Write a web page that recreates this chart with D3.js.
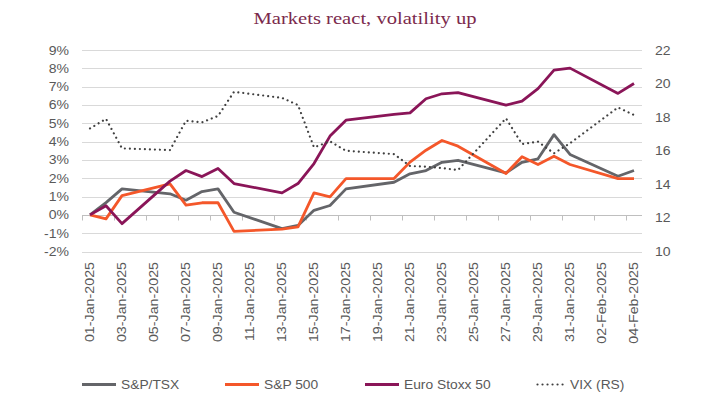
<!DOCTYPE html>
<html><head><meta charset="utf-8">
<script src="https://cdn.jsdelivr.net/npm/d3@7/dist/d3.min.js"></script>
<style>
body{margin:0;background:#fff;}
svg{display:block;}
text{font-family:"Liberation Sans",Arial,sans-serif;}
</style>
</head><body>
<svg id="c" width="706" height="417"></svg>
<script>
// ---- data ----
const dates = ["2025-01-01","2025-01-02","2025-01-03","2025-01-06","2025-01-07","2025-01-08","2025-01-09","2025-01-10",
  "2025-01-13","2025-01-14","2025-01-15","2025-01-16","2025-01-17","2025-01-20","2025-01-21","2025-01-22","2025-01-23",
  "2025-01-24","2025-01-27","2025-01-28","2025-01-29","2025-01-30","2025-01-31","2025-02-03","2025-02-04"];
const tsx   = [0, 0.67, 1.42, 1.15, 0.80, 1.27, 1.42, 0.14, -0.75, -0.58, 0.25, 0.51, 1.42, 1.78, 2.24, 2.42, 2.87, 2.98, 2.29, 2.87, 3.06, 4.38, 3.30, 2.11, 2.42];
const sp500 = [0, -0.22, 1.05, 1.69, 0.53, 0.66, 0.66, -0.90, -0.78, -0.66, 1.20, 0.98, 1.98, 1.98, 2.88, 3.53, 4.06, 3.75, 2.26, 3.17, 2.75, 3.20, 2.75, 1.98, 1.98];
const euro  = [0, 0.50, -0.48, 1.84, 2.42, 2.09, 2.53, 1.71, 1.20, 1.71, 2.80, 4.30, 5.17, 5.48, 5.57, 6.34, 6.61, 6.67, 5.99, 6.21, 6.89, 7.90, 8.01, 6.63, 7.17];
const vix   = [17.33, 17.90, 16.14, 16.04, 17.79, 17.69, 18.07, 19.51, 19.15, 18.72, 16.20, 16.56, 16.00, 15.80, 15.09, 15.05, 14.97, 14.85, 17.93, 16.40, 16.54, 15.85, 16.45, 18.58, 18.13];
const seriesNames = ["S&P/TSX","S&P 500","Euro Stoxx 50","VIX (RS)"];
const leftTicks  = [-2,-1,0,1,2,3,4,5,6,7,8,9];
const rightTicks = [10,12,14,16,18,20,22];
const xLabelDates = ["2025-01-01","2025-01-03","2025-01-05","2025-01-07","2025-01-09","2025-01-11","2025-01-13","2025-01-15",
  "2025-01-17","2025-01-19","2025-01-21","2025-01-23","2025-01-25","2025-01-27","2025-01-29","2025-01-31","2025-02-02","2025-02-04"];
const title = "Markets react, volatility up";

// ---- chart ----
const W = 706, H = 417;
const svg = d3.select("#c");
svg.append("rect").attr("width", W).attr("height", H).attr("fill", "#fff");

const parse = d3.utcParse("%Y-%m-%d");
const fmt = d3.utcFormat("%d-%b-%Y");
const dts = dates.map(parse);

const x = d3.scaleUtc()
  .domain([d3.utcHour.offset(parse("2025-01-01"), -12), d3.utcHour.offset(parse("2025-02-04"), 12)])
  .range([82, 642]);
const yL = d3.scaleLinear().domain([-2, 9]).range([251.5, 50]);
const yR = d3.scaleLinear().domain([10, 22]).range([251.5, 50]);

const TXT = "#595959";
const SX = 1.17;

// gridlines
svg.append("g").selectAll("line").data(leftTicks).join("line")
  .attr("x1", x.range()[0]).attr("x2", x.range()[1])
  .attr("y1", d => Math.round(yL(d)) + 0.5).attr("y2", d => Math.round(yL(d)) + 0.5)
  .attr("stroke", "#d9d9d9").attr("stroke-width", 1);

// left labels
svg.append("g").selectAll("text").data(leftTicks).join("text")
  .attr("transform", d => `translate(69,${yL(d) + 4.5}) scale(${SX},1)`)
  .attr("text-anchor", "end").attr("font-size", 12).attr("fill", TXT)
  .text(d => d + "%");

// right labels
svg.append("g").selectAll("text").data(rightTicks).join("text")
  .attr("transform", d => `translate(655,${yR(d) + 4.5}) scale(${SX},1)`)
  .attr("text-anchor", "start").attr("font-size", 12).attr("fill", TXT)
  .text(d => d);

// x axis line at 0%
const y0 = Math.round(yL(0)) + 0.5;
svg.append("line").attr("x1", x.range()[0]).attr("x2", x.range()[1])
  .attr("y1", y0).attr("y2", y0).attr("stroke", "#bfbfbf").attr("stroke-width", 1);
// tick marks at interval boundaries (every 2 days)
const tickDates = xLabelDates.map(s => d3.utcHour.offset(parse(s), -12));
svg.append("g").selectAll("line").data(tickDates).join("line")
  .attr("x1", d => Math.round(x(d)) + 0.5).attr("x2", d => Math.round(x(d)) + 0.5)
  .attr("y1", y0).attr("y2", y0 + 5)
  .attr("stroke", "#bfbfbf").attr("stroke-width", 1);

// x labels (rotated)
svg.append("g").selectAll("text").data(xLabelDates.map(parse)).join("text")
  .attr("transform", d => `translate(${x(d) + 4},262) rotate(-90) scale(1.19,1)`)
  .attr("text-anchor", "end").attr("font-size", 12).attr("fill", TXT)
  .text(d => fmt(d));

// lines
const COLORS = ["#646569", "#F4572A", "#8A1558", "#404040"];
const mk = (vals, ys) => d3.line().x((d, i) => x(dts[i])).y(d => ys(d))(vals);
svg.append("path").attr("d", mk(tsx, yL)).attr("fill", "none").attr("stroke", COLORS[0]).attr("stroke-width", 2.8).attr("stroke-linejoin", "round");
svg.append("path").attr("d", mk(sp500, yL)).attr("fill", "none").attr("stroke", COLORS[1]).attr("stroke-width", 2.8).attr("stroke-linejoin", "round");
svg.append("path").attr("d", mk(euro, yL)).attr("fill", "none").attr("stroke", COLORS[2]).attr("stroke-width", 2.8).attr("stroke-linejoin", "round");
svg.append("path").attr("d", mk(vix, yR)).attr("fill", "none").attr("stroke", COLORS[3]).attr("stroke-width", 2.2)
  .attr("stroke-dasharray", "0.01,5").attr("stroke-linecap", "round");

// title
svg.append("text").attr("x", 365).attr("y", 24).attr("text-anchor", "middle")
  .attr("font-family", "'Liberation Serif','DejaVu Serif',serif").attr("font-size", 17)
  .attr("fill", "#7B2A4C").attr("textLength", 223).attr("lengthAdjust", "spacingAndGlyphs")
  .style("font-family", "'Liberation Serif','DejaVu Serif',serif")
  .text(title);

// legend
const legX = [82, 225, 365, 536];
const legY = 384.5;
seriesNames.forEach((n, i) => {
  const g = svg.append("g");
  const ln = g.append("line").attr("x1", legX[i]).attr("x2", legX[i] + (i === 3 ? 30 : 34))
    .attr("y1", legY).attr("y2", legY).attr("stroke", COLORS[i]);
  if (i === 3) ln.attr("stroke-width", 2.2).attr("stroke-dasharray", "0.01,5").attr("stroke-linecap", "round").attr("x1", legX[i] + 1.5);
  else ln.attr("stroke-width", 3);
  g.append("text").attr("transform", `translate(${legX[i] + (i === 3 ? 34 : 39)},${legY + 4.5}) scale(1.15,1)`)
    .attr("font-size", 12).attr("fill", TXT).text(n);
});
</script>
</body></html>
